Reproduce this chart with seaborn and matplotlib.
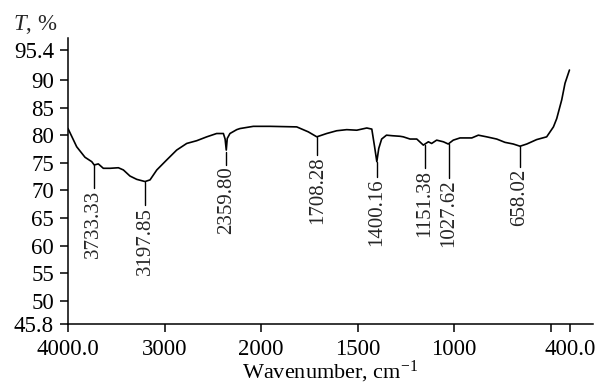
import numpy as np
import pandas as pd
import matplotlib
matplotlib.use("Agg")
import matplotlib.pyplot as plt
import seaborn as sns

# ---- data ----
wavenumber = [4000, 3910, 3824, 3754, 3728, 3686, 3634, 3564, 3478, 3426, 3358, 3288,
              3202, 3150, 3080, 2978, 2874, 2770, 2666, 2562, 2460, 2390, 2372, 2360,
              2350, 2322, 2252, 2218, 2080, 1953, 1815, 1755, 1711, 1660, 1608, 1556,
              1504, 1452, 1426, 1412, 1400, 1390, 1375, 1350, 1320, 1280, 1263, 1228,
              1193, 1159, 1133, 1116, 1090, 1055, 1030, 1004, 969, 908, 874, 831, 779,
              736, 693, 658, 623, 572, 520, 485, 468, 442, 425, 402]
transmittance = [81.2, 77.9, 76.0, 75.2, 74.6, 74.8, 74.0, 74.0, 74.1, 73.7, 72.6, 72.0,
                 71.6, 71.9, 73.7, 75.5, 77.3, 78.5, 79.0, 79.7, 80.3, 80.3, 79.3, 77.3,
                 79.4, 80.3, 81.0, 81.2, 81.6, 81.6, 81.5, 80.6, 79.7, 80.3, 80.8, 81.0,
                 80.9, 81.3, 81.1, 78.0, 75.2, 77.6, 79.3, 80.0, 79.9, 79.8, 79.7, 79.3,
                 79.3, 78.2, 78.8, 78.5, 79.1, 78.8, 78.4, 79.1, 79.5, 79.5, 80.0, 79.7,
                 79.3, 78.7, 78.4, 78.0, 78.4, 79.2, 79.7, 81.5, 83.0, 86.4, 89.4, 91.8]

peak_labels = ["3733.33", "3197.85", "2359.80", "1708.28", "1400.16", "1151.38",
               "1027.62", "658.02"]
peak_wn = [3733.33, 3197.85, 2359.80, 1708.28, 1400.16, 1151.38, 1027.62, 658.02]
peak_line_top = [74.6, 71.5, 76.9, 79.7, 75.1, 78.2, 78.4, 78.0]
peak_line_bottom = [70.4, 67.3, 74.6, 76.4, 72.4, 74.0, 72.3, 74.2]

xtick_values = [4000, 3000, 2000, 1500, 1000, 500, 400]
xtick_labels = ["4000.0", "3000", "2000", "1500", "1000", "", "400.0"]
ytick_values = [45.8, 50, 55, 60, 65, 70, 75, 80, 85, 90, 95.4]
ytick_labels = ["45.8", "50", "55", "60", "65", "70", "75", "80", "85", "90", "95.4"]

df = pd.DataFrame({"wn": wavenumber, "T": transmittance})

# ---- style ----
sns.set_theme(style="ticks")
plt.rcParams["font.family"] = ["Liberation Serif", "DejaVu Serif"]
plt.rcParams["mathtext.fontset"] = "custom"
plt.rcParams["mathtext.rm"] = "Liberation Serif"
plt.rcParams["mathtext.it"] = "Liberation Serif:italic"
plt.rcParams["axes.linewidth"] = 1.1

fig = plt.figure(figsize=(5.98, 3.87), dpi=100)
ax = fig.add_axes([68 / 598, 1 - 324 / 387, (593 - 68) / 598, (324 - 38) / 387])


def fwd(w):
    w = np.asarray(w, dtype=float)
    return np.where(w > 2000, 2000 + (w - 2000) / 2.0, w)


def inv(u):
    u = np.asarray(u, dtype=float)
    return np.where(u > 2000, 2000 + (u - 2000) * 2.0, u)


ax.set_xscale("function", functions=(fwd, inv))

sns.lineplot(data=df, x="wn", y="T", ax=ax, color="black", linewidth=1.2,
             sort=False, estimator=None)

for lab, w, top, bot in zip(peak_labels, peak_wn, peak_line_top, peak_line_bottom):
    ax.plot([w, w], [top, bot], color="black", linewidth=1.0)
    ax.text(w, bot - 0.3, lab, rotation=90, ha="center", va="top", fontsize=15)

ax.set_xlim(4000, 280)
ax.set_ylim(45.8, 97.6)
ax.set_xticks(xtick_values)
ax.set_xticklabels(xtick_labels)
ax.xaxis.set_minor_locator(matplotlib.ticker.NullLocator())
ax.set_yticks(ytick_values)
ax.set_yticklabels(ytick_labels)
ax.tick_params(axis="both", direction="out", length=6, width=1.1, labelsize=16.5,
               color="black", labelcolor="black")
ax.tick_params(axis="x", pad=5)
ax.tick_params(axis="y", pad=4)
sns.despine(ax=ax)
ax.spines["left"].set_color("black")
ax.spines["bottom"].set_color("black")

ax.set_xlabel("Wavenumber, cm$^{-1}$", fontsize=16, labelpad=-1, color="black")
ax.set_ylabel("")
fig.text(13 / 598, 1 - 24 / 387, "$T$, %", fontsize=16.5, ha="left", va="center")

fig.savefig("out.png", dpi=100)
